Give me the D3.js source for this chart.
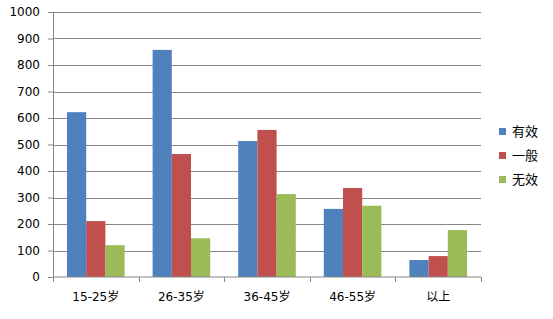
<!DOCTYPE html>
<html>
<head>
<meta charset="utf-8">
<script src="https://cdn.jsdelivr.net/npm/d3@7"></script>
<style>
  body { margin: 0; background: #fff; }
  svg text { font-family: "DejaVu Sans", "Noto Sans CJK SC", sans-serif; fill: #000; }
</style>
</head>
<body>
<div id="chart"></div>
<script>
// data
const categories = ['15-25岁', '26-35岁', '36-45岁', '46-55岁', '以上'];
const seriesNames = ['有效', '一般', '无效'];
const effective = [622, 857, 513, 257, 64];
const normal = [211, 464, 555, 336, 79];
const invalid = [120, 146, 313, 269, 177];
const yTicks = [0, 100, 200, 300, 400, 500, 600, 700, 800, 900, 1000];

const colors = ['#4F81BD', '#C0504D', '#9BBB59'];
const seriesValues = [effective, normal, invalid];

const W = 553, H = 319;
const margin = {top: 12, right: 72, bottom: 42, left: 53};
const width = W - margin.left - margin.right;
const height = H - margin.top - margin.bottom;

const svg = d3.select('#chart').append('svg')
    .attr('width', W)
    .attr('height', H);

const chart = svg.append('g')
    .attr('transform', 'translate(' + margin.left + ',' + margin.top + ')');

const xScale = d3.scaleBand()
    .domain(categories)
    .range([0, width]);

const xInner = d3.scaleBand()
    .domain(seriesNames)
    .range([14, xScale.bandwidth() - 14]);

const yScale = d3.scaleLinear()
    .domain([0, 1000])
    .range([height, 0]);

// gridlines
chart.append('g').selectAll('line')
    .data(yTicks.filter(d => d > 0)).enter()
    .append('line')
    .attr('x1', 0).attr('x2', width)
    .attr('y1', d => Math.round(yScale(d)) + 0.5)
    .attr('y2', d => Math.round(yScale(d)) + 0.5)
    .attr('stroke', '#878787')
    .attr('stroke-width', 1);

// bars
const rows = categories.map((c, i) => ({cat: c, values: seriesNames.map((s, j) => ({s, v: seriesValues[j][i], j}))}));
chart.append('g').selectAll('g')
    .data(rows).enter()
    .append('g')
    .attr('transform', d => 'translate(' + xScale(d.cat) + ',0)')
    .selectAll('rect')
    .data(d => d.values).enter()
    .append('rect')
    .attr('x', d => xInner(d.s))
    .attr('width', xInner.bandwidth())
    .attr('y', d => yScale(d.v))
    .attr('height', d => height - yScale(d.v))
    .attr('fill', d => colors[d.j]);

// y axis
const yAxis = d3.axisLeft(yScale)
    .tickValues(yTicks)
    .tickSize(5)
    .tickPadding(8)
    .tickFormat(d3.format('d'));
const gy = chart.append('g').call(yAxis);
gy.select('.domain').attr('stroke', '#878787');
gy.selectAll('.tick line').attr('stroke', '#878787');
gy.selectAll('.tick text').style('font-size', '12px');

// x axis
const xAxis = d3.axisBottom(xScale).tickSize(0).tickPadding(15);
const gx = chart.append('g')
    .attr('transform', 'translate(0,' + height + ')')
    .call(xAxis);
gx.select('.domain').attr('stroke', '#878787').attr('d', 'M0.5,0H' + width);
gx.selectAll('.tick text').style('font-size', '12px');
// category separator ticks
gx.append('g').selectAll('line')
    .data(d3.range(categories.length + 1)).enter()
    .append('line')
    .attr('x1', i => Math.round(i * xScale.step()) + 0.5)
    .attr('x2', i => Math.round(i * xScale.step()) + 0.5)
    .attr('y1', 0).attr('y2', 5)
    .attr('stroke', '#878787');

// legend
const legend = svg.append('g')
    .attr('transform', 'translate(499,128)');
const item = legend.selectAll('g')
    .data(seriesNames).enter()
    .append('g')
    .attr('transform', (d, i) => 'translate(0,' + i * 24 + ')');
item.append('rect')
    .attr('width', 7).attr('height', 7)
    .attr('fill', (d, i) => colors[i]);
item.append('text')
    .attr('x', 13).attr('y', 8)
    .style('font-size', '13px')
    .style('font-family', '"Noto Sans CJK SC", sans-serif')
    .text(d => d);
</script>
</body>
</html>
